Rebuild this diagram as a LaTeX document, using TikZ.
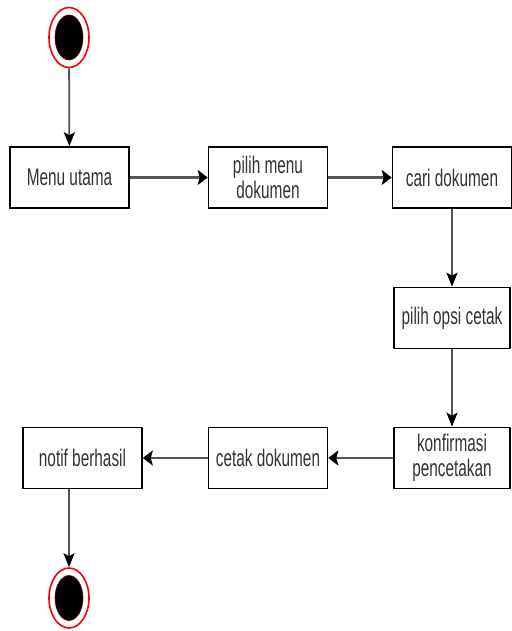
\documentclass[tikz,border=0pt]{standalone}
\usepackage{fontspec}
\newfontfamily\condsans[FakeStretch=0.64]{Liberation Sans}
\usetikzlibrary{shapes.geometric,arrows.meta}
\definecolor{inkgray}{HTML}{333333}
\definecolor{linegray}{HTML}{555555}
\begin{document}
\begin{tikzpicture}[x=1pt,y=-1pt,
  act/.style={draw=black, line width=1.6pt, fill=white, rectangle,
    minimum width=119pt, minimum height=61pt, inner sep=0pt,
    font=\condsans\fontsize{24}{25}\selectfont, align=center, text=inkgray},
  ring/.style={ellipse, draw=red, line width=1.6pt, fill=white,
    minimum width=40pt, minimum height=60pt, inner sep=0pt},
  dot/.style={ellipse, fill=black, draw=red!40!black, line width=0.6pt,
    minimum width=28pt, minimum height=45pt, inner sep=0pt},
  vflow/.style={draw=linegray, line width=1.8pt,
    -{Stealth[length=14pt,width=11pt,inset=3pt,fill=black,color=black]}},
  hflow/.style={draw=linegray, line width=2.6pt,
    -{Stealth[length=10pt,width=15pt,inset=2pt,fill=black,color=black]}}]
\useasboundingbox (0,0) rectangle (511,631);

% initial state
\node[ring] (start) at (69,37.5) {};
\node[dot] at (start.center) {};

% actions
\node[act] (menu)   at (69.5,177.5) {Menu utama};
\node[act] (pilih)  at (268,177.5)  {pilih menu\\dokumen};
\node[act] (cari)   at (452,177.5)  {cari dokumen};
\node[act, minimum width=116pt] (opsi) at (452,318) {pilih opsi cetak};
\node[act, minimum width=116pt] (konf) at (452,458) {konfirmasi\\pencetakan};
\node[act] (cetak)  at (268,458)    {cetak dokumen};
\node[act] (notif)  at (82.5,458)   {notif berhasil};

% final state
\node[ring] (end) at (69,598) {};
\node[dot] at (end.center) {};

% control flow
\draw[vflow] (start) -- (menu);
\draw[hflow] (menu) -- (pilih);
\draw[hflow] (pilih) -- (cari);
\draw[vflow] (cari) -- (opsi);
\draw[vflow] (opsi) -- (konf);
\draw[hflow] (konf) -- (cetak);
\draw[hflow] (cetak) -- (notif);
\draw[vflow] (notif.south -| end) -- (end);
\end{tikzpicture}
\end{document}
